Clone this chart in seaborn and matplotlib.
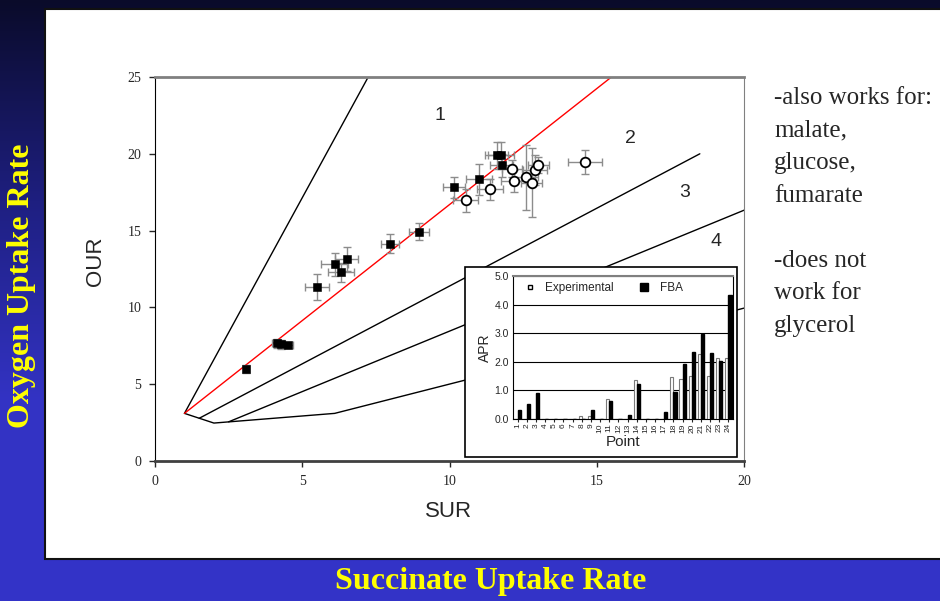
import matplotlib.pyplot as plt
import matplotlib.patches as mpatches
from matplotlib.colors import LinearSegmentedColormap
from matplotlib.lines import Line2D
import numpy as np
import pandas as pd
import seaborn as sns

# ---- data ----
filled_sur = [3.08, 4.13, 4.28, 4.53, 5.50, 6.10, 6.32, 6.51, 7.98, 8.95, 10.15, 11.01, 11.60, 11.74, 11.77]
filled_our = [5.97, 7.66, 7.61, 7.55, 11.34, 12.80, 12.30, 13.12, 14.16, 14.94, 17.81, 18.33, 19.91, 19.91, 19.24]
filled_sur_err = [0.10, 0.15, 0.15, 0.15, 0.41, 0.47, 0.44, 0.40, 0.32, 0.34, 0.37, 0.45, 0.40, 0.44, 0.40]
filled_our_err = [0.25, 0.30, 0.30, 0.20, 0.84, 0.74, 0.62, 0.78, 0.60, 0.56, 0.68, 1.03, 0.87, 0.87, 0.76]

open_sur = [10.55, 11.38, 12.11, 12.19, 12.60, 12.79, 12.90, 13.02, 14.61]
open_our = [16.98, 17.68, 19.04, 18.24, 18.46, 18.13, 18.93, 19.28, 19.47]
open_sur_err = [0.43, 0.44, 0.34, 0.43, 0.40, 0.35, 0.40, 0.35, 0.57]
open_our_err = [0.76, 0.67, 0.54, 0.70, 2.10, 2.25, 0.98, 0.50, 0.76]

# phase plane boundaries
line1_x, line1_y = [1.0, 7.24], [3.1, 25.0]
loo_x, loo_y = [1.0, 15.5], [3.1, 25.0]
line2_x, line2_y = [1.5, 18.5], [2.78, 20.0]
line3_x, line3_y = [2.5, 20.5], [2.55, 16.72]
line4_x, line4_y = [1.0, 2.0, 6.1, 10.6, 20.5], [3.1, 2.47, 3.1, 5.3, 10.2]
region_labels = ["1", "2", "3", "4"]
region_x = [9.68, 16.13, 18.0, 19.05]
region_y = [22.5, 21.0, 17.5, 14.3]

# inset: APR per point
points = [str(i) for i in range(1, 25)]
apr_exp = [0, 0, 0, 0, 0, 0, 0, 0.12, 0.12, 0, 0.70, 0, 0, 1.38, 0, 0, 0, 1.47, 1.40, 1.52, 2.28, 1.52, 2.15, 2.15]
apr_fba = [0.31, 0.52, 0.91, 0, 0, 0, 0, 0, 0.31, 0, 0.63, 0, 0.13, 1.22, 0, 0, 0.25, 0.95, 1.92, 2.35, 2.97, 2.31, 2.03, 4.32]

notes = "-also works for:\nmalate,\nglucose,\nfumarate\n\n-does not\nwork for\nglycerol"

sns.set_style("ticks")
plt.rcParams["font.family"] = ["Liberation Sans", "DejaVu Sans"]
serif = ["Liberation Serif", "DejaVu Serif"]

W, H = 940, 601
fig = plt.figure(figsize=(9.4, 6.01), dpi=100)

# slide background gradient
bg = fig.add_axes([0, 0, 1, 1], zorder=-10)
bg.axis("off")
cmap = LinearSegmentedColormap.from_list("slide", ["#0a0b2a", "#1e1f80", "#3333c4", "#3434c8"])
bg.imshow(np.linspace(0, 1, 256).reshape(-1, 1), aspect="auto", cmap=cmap, extent=[0, 1, 0, 1])

# white panel holding the chart
fig.add_artist(mpatches.Rectangle((45 / W, 42 / H), 1.0, 550 / H, transform=fig.transFigure,
                                  facecolor="white", edgecolor="#111111", lw=1.5, zorder=-5))

fig.text(22 / W, 1 - 286 / H, "Oxygen Uptake Rate", rotation=90, color="#ffff00", fontsize=23,
         fontweight="bold", family=serif, ha="center", va="center")
fig.text(491 / W, 1 - 582 / H, "Succinate Uptake Rate", color="#ffff00", fontsize=23,
         fontweight="bold", family=serif, ha="center", va="center")
fig.text(774 / W, 1 - 87 / H, notes, family=serif, fontsize=18, ha="left", va="top", linespacing=1.62)

# ---- main phase plane ----
ax = fig.add_axes([155 / W, 140 / H, 589 / W, 384 / H], zorder=1)
ax.plot(line1_x, line1_y, color="black", lw=1)
ax.plot(line2_x, line2_y, color="black", lw=1)
ax.plot(line3_x, line3_y, color="black", lw=1)
ax.plot(line4_x, line4_y, color="black", lw=1)
ax.plot(loo_x, loo_y, color="red", lw=1)

ax.errorbar(filled_sur, filled_our, xerr=filled_sur_err, yerr=filled_our_err, fmt="none",
            ecolor="#8c8c8c", elinewidth=1, capsize=3, zorder=3)
ax.errorbar(open_sur, open_our, xerr=open_sur_err, yerr=open_our_err, fmt="none",
            ecolor="#8c8c8c", elinewidth=1, capsize=3, zorder=3)
sns.scatterplot(x=filled_sur, y=filled_our, marker="s", color="black", edgecolor="black", s=26,
                ax=ax, zorder=4)
sns.scatterplot(x=open_sur, y=open_our, marker="o", color="white", edgecolor="black", linewidth=1.3,
                s=48, ax=ax, zorder=4)

for lab, lx, ly in zip(region_labels, region_x, region_y):
    ax.text(lx, ly, lab, fontsize=14, ha="center", va="center")

ax.set_xlim(0, 20)
ax.set_ylim(0, 25)
ax.set_xticks([0, 5, 10, 15, 20])
ax.set_yticks([0, 5, 10, 15, 20, 25])
ax.tick_params(direction="out", length=4, width=1, labelsize=10, pad=6)
for lbl in ax.get_xticklabels() + ax.get_yticklabels():
    lbl.set_fontfamily(serif)
ax.set_xlabel("SUR", fontsize=16)
ax.set_ylabel("OUR", fontsize=16)
ax.xaxis.set_label_coords(0.499, -0.105)
ax.yaxis.set_label_coords(-0.083, 0.52)
ax.spines["top"].set_color("#808080")
ax.spines["top"].set_linewidth(2)
ax.spines["bottom"].set_color("#404040")
ax.spines["bottom"].set_linewidth(2)
ax.spines["left"].set_color("black")
ax.spines["right"].set_color("#808080")

# ---- inset: APR bars ----
fig.add_artist(mpatches.Rectangle((465 / W, 144 / H), 272 / W, 190 / H, transform=fig.transFigure,
                                  facecolor="white", edgecolor="black", lw=1.2, zorder=2))
ax2 = fig.add_axes([513 / W, 182 / H, 220 / W, 143 / H], zorder=3)
apr = pd.DataFrame({
    "Point": points * 2,
    "APR": apr_exp + apr_fba,
    "Series": ["Experimental"] * len(points) + ["FBA"] * len(points),
})
sns.barplot(data=apr, x="Point", y="APR", hue="Series", palette={"Experimental": "white", "FBA": "black"},
            width=0.7, legend=False, ax=ax2, zorder=3)
for bar in ax2.containers[0]:
    bar.set_edgecolor("#7a7a7a")
    bar.set_linewidth(0.8)
for bar in ax2.containers[1]:
    bar.set_edgecolor("black")
ax2.set_ylim(0, 5)
ax2.set_xlim(-0.5, 23.5)
ax2.set_yticks([0, 1, 2, 3, 4, 5])
ax2.set_yticklabels([f"{v:.1f}" for v in range(6)], fontsize=7.5)
ax2.tick_params(axis="x", labelrotation=90, labelsize=6, length=2, pad=1)
ax2.tick_params(axis="y", length=0, pad=3)
ax2.yaxis.grid(True, color="black", lw=0.8)
ax2.set_axisbelow(True)
ax2.set_xlabel("Point", fontsize=11, labelpad=2)
ax2.set_ylabel("APR", fontsize=10, labelpad=2)
ax2.spines["top"].set_color("#808080")
ax2.spines["top"].set_linewidth(1.5)
for side in ["left", "bottom", "right"]:
    ax2.spines[side].set_color("black")
handles = [
    Line2D([], [], marker="s", ls="", mfc="white", mec="black", ms=3.5, label="Experimental"),
    Line2D([], [], marker="s", ls="", mfc="black", mec="black", ms=6, label="FBA"),
]
ax2.legend(handles=handles, loc="upper left", bbox_to_anchor=(0.0, 0.99), ncol=2, frameon=False,
           fontsize=8.5, handletextpad=0.3, columnspacing=1.6, borderaxespad=0)

fig.savefig("out.png", dpi=100)
